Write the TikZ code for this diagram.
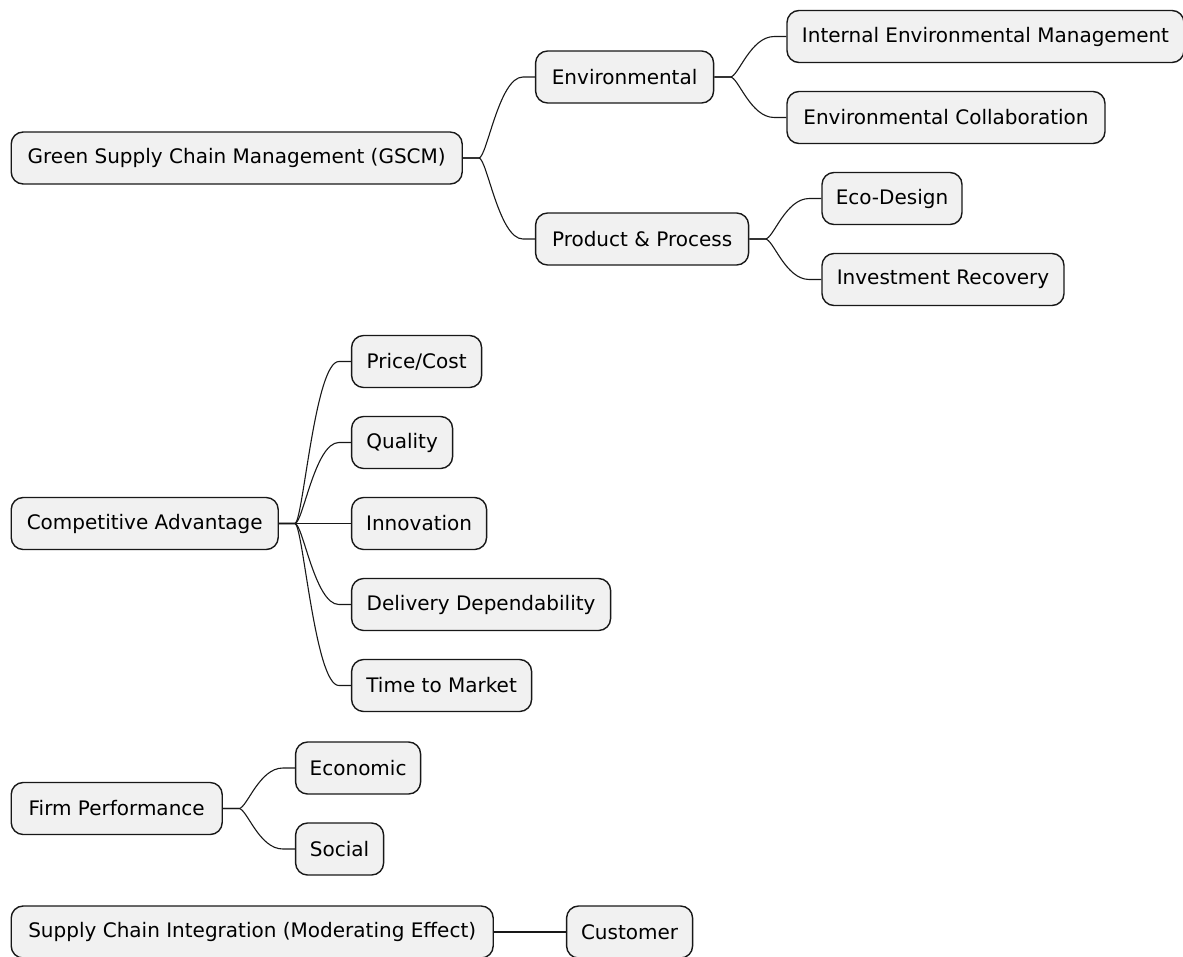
\documentclass[tikz,border=0pt]{standalone}
\usepackage{fontspec}
\setmainfont{DejaVu Sans}
\usepackage{xcolor}
\usepackage{tikz}
\usetikzlibrary{positioning,calc}
\definecolor{nodefill}{HTML}{F1F1F1}
\definecolor{nodeline}{HTML}{181818}
\newcommand{\branch}[2]{%
  \draw[link] (#1.east) -- ++(16,0) .. controls +(8,0) and +(-24,0) .. ($(#2.west)+(-12,0)$) -- (#2.west);}

\begin{document}
\begin{tikzpicture}[x=1pt,y=-1pt,
    topic/.style={draw=nodeline,line width=1.4pt,fill=nodefill,
      rounded corners=12pt,minimum height=52pt,inner xsep=4pt,
      font=\fontsize{20}{24}\selectfont},
    link/.style={draw=nodeline,line width=1.1pt}]
  \useasboundingbox (0,0) rectangle (1183,956);

  \node[topic,minimum width=451pt,anchor=west] (gscm) at (10.5,158)
    {Green Supply Chain Management (GSCM)};
  \node[topic,minimum width=178pt,right=72pt of gscm,yshift=81pt] (env)
    {Environmental};
  \node[topic,minimum width=213pt,right=72pt of gscm,yshift=-81pt] (prod)
    {Product \& Process};
  \node[topic,minimum width=397pt,right=72pt of env,yshift=40.5pt] (iem)
    {Internal Environmental Management};
  \node[topic,minimum width=318pt,right=72pt of env,yshift=-40.5pt] (ecol)
    {Environmental Collaboration};
  \node[topic,minimum width=140pt,right=72pt of prod,yshift=40.5pt] (eco)
    {Eco-Design};
  \node[topic,minimum width=242pt,right=72pt of prod,yshift=-40.5pt] (invrec)
    {Investment Recovery};

  \node[topic,minimum width=267pt,anchor=west] (compadv) at (10.5,523.5)
    {Competitive Advantage};
  \node[topic,minimum width=130pt,right=72pt of compadv,yshift=162pt] (price)
    {Price/Cost};
  \node[topic,minimum width=101pt,right=72pt of compadv,yshift=81pt] (quality)
    {Quality};
  \node[topic,minimum width=135pt,right=72pt of compadv] (innov)
    {Innovation};
  \node[topic,minimum width=259pt,right=72pt of compadv,yshift=-81pt] (delivery)
    {Delivery Dependability};
  \node[topic,minimum width=180pt,right=72pt of compadv,yshift=-162pt] (ttm)
    {Time to Market};

  \node[topic,minimum width=211pt,anchor=west] (firmperf) at (10.5,808.5)
    {Firm Performance};
  \node[topic,minimum width=125pt,right=72pt of firmperf,yshift=40.5pt] (econ)
    {Economic};
  \node[topic,minimum width=88pt,right=72pt of firmperf,yshift=-40.5pt] (social)
    {Social};

  \node[topic,minimum width=482pt,anchor=west] (sci) at (10.5,932)
    {Supply Chain Integration (Moderating Effect)};
  \node[topic,minimum width=126pt,right=72pt of sci] (customer)
    {Customer};

  \branch{gscm}{env}
  \branch{gscm}{prod}
  \branch{env}{iem}
  \branch{env}{ecol}
  \branch{prod}{eco}
  \branch{prod}{invrec}
  \branch{compadv}{price}
  \branch{compadv}{quality}
  \branch{compadv}{innov}
  \branch{compadv}{delivery}
  \branch{compadv}{ttm}
  \branch{firmperf}{econ}
  \branch{firmperf}{social}
  \branch{sci}{customer}
\end{tikzpicture}
\end{document}
